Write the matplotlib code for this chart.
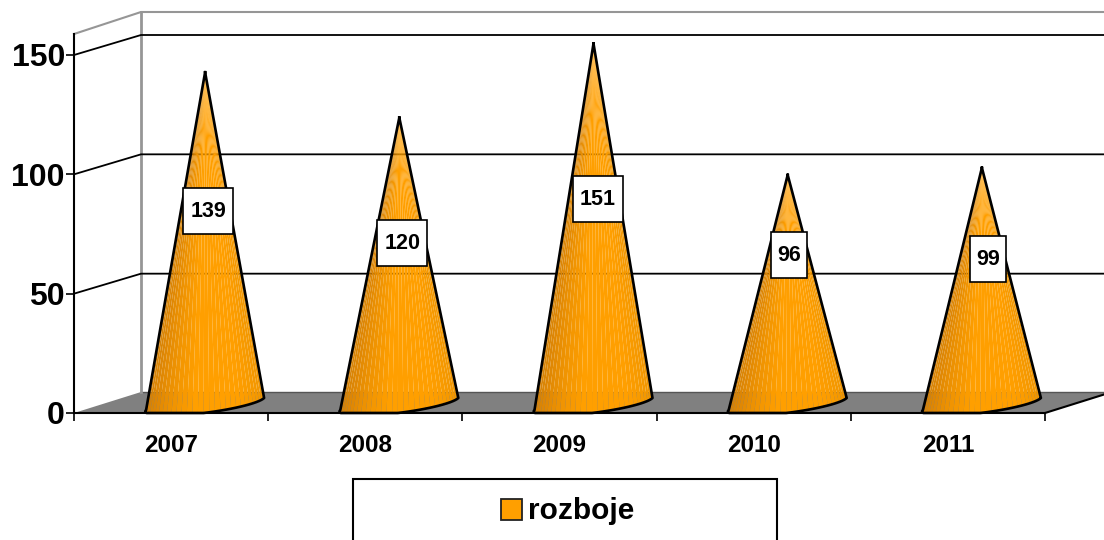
import numpy as np
import matplotlib
matplotlib.use("Agg")
import matplotlib.pyplot as plt
from matplotlib.patches import Polygon, Rectangle
from matplotlib.colors import LinearSegmentedColormap

years = ["2007", "2008", "2009", "2010", "2011"]
rozboje = [139, 120, 151, 96, 99]
y_ticks = [0, 50, 100, 150]
series_name = "rozboje"

# where the value boxes sit on each cone (in axis units)
label_heights = [84.6, 71.2, 89.6, 66.2, 64.5]
label_shift = [3, 3, 4, 1.5, 6]  # px to the right of cone centre

W, H = 1104, 540
X0, X1 = 74, 1045     # front floor edge, px
Y0, YTOP = 413, 34    # front left axis, px
PX_X = (X1 - X0) / 5
PX_Y = (413 - 55) / 150
DX, DY = 67 / PX_X, 21 / PX_Y  # depth of the 3d box in axis units
GRID_DY = 20 / PX_Y

plt.rcParams['font.family'] = ['Liberation Sans', 'DejaVu Sans']
plt.rcParams['font.weight'] = 'bold'

fig = plt.figure(figsize=(W / 100, H / 100), dpi=100)
ax = fig.add_axes([X0 / W, 1 - Y0 / H, (X1 - X0) / W, (Y0 - YTOP) / H])
ax.set_xlim(0, 5)
ax.set_ylim(0, (Y0 - YTOP) / PX_Y)
ax.patch.set_visible(False)
for s in ['top', 'right']:
    ax.spines[s].set_visible(False)
for s in ['left', 'bottom']:
    ax.spines[s].set_linewidth(1.5)
    ax.spines[s].set_zorder(6)

# ticks and labels
ax.set_yticks(y_ticks)
ax.set_yticklabels([str(v) for v in y_ticks], fontsize=23, fontweight='bold')
ax.tick_params(axis='y', length=5.5, width=1.2, pad=1)
ax.set_xticks(range(6))
ax.set_xticklabels([])
ax.tick_params(axis='x', which='major', length=6, width=1.2)
ax.set_xticks(np.arange(5) + 0.5, minor=True)
ax.set_xticklabels(years, minor=True, fontsize=17.5, fontweight='bold')
ax.tick_params(axis='x', which='minor', length=0, pad=15)

# floor
top_val = (Y0 - 12) / PX_Y
ax.add_patch(Polygon([(0, 0), (DX, DY), (5 + DX, DY), (5, 0)], closed=True,
                     facecolor='#808080', edgecolor='none', clip_on=False, zorder=1))
ax.plot([5, 5 + DX], [0, DY], color='black', lw=1.5, clip_on=False, zorder=2)
ax.plot([DX, 5 + DX], [DY, DY], color='#555555', lw=1, clip_on=False, zorder=1)

# walls
ax.plot([DX, DX], [DY, top_val], color='#969696', lw=2, clip_on=False, zorder=1)
ax.plot([0, DX, 5 + DX], [(Y0 - YTOP) / PX_Y, top_val, top_val], color='#969696',
        lw=1.5, clip_on=False, zorder=1)
for v in y_ticks[1:]:
    ax.plot([0, DX, 5 + DX], [v, v + GRID_DY, v + GRID_DY], color='black', lw=1.3,
            clip_on=False, zorder=1)

# cones
cone_cmap = LinearSegmentedColormap.from_list(
    "cone", ["#c97a0a", "#e08804", "#ff9f00", "#ff9f00", "#ee9400"])
t = np.linspace(0, np.pi, 34)
ux, uy = 59 / PX_X, 6 / PX_Y
vx, vy = 10 / PX_X, 10 / PX_Y
for i, val in enumerate(rozboje):
    cx = i + 0.5 + 34 / PX_X
    cy = 9 / PX_Y
    bx = cx + ux * np.cos(t) - vx * np.sin(t)
    by = np.maximum(cy + uy * np.cos(t) - vy * np.sin(t), 0)
    apex = (cx, cy + val)
    for k in range(len(t) - 1):
        ax.add_patch(Polygon([apex, (bx[k], by[k]), (bx[k + 1], by[k + 1])], closed=True,
                             facecolor=cone_cmap(1 - k / (len(t) - 2)), edgecolor='none',
                             clip_on=False, zorder=3))
    ax.plot(np.r_[apex[0], bx, apex[0]], np.r_[apex[1], by, apex[1]], color='black', lw=1.9,
            solid_joinstyle='round', clip_on=False, zorder=4)

    # value box
    txt = str(val)
    bw = (50 if len(txt) == 3 else 36) / PX_X
    bh = 46 / PX_Y
    lx = cx + label_shift[i] / PX_X
    ly = label_heights[i]
    ax.add_patch(Rectangle((lx - bw / 2, ly - bh / 2), bw, bh, facecolor='white',
                           edgecolor='black', lw=1.2, clip_on=False, zorder=5))
    ax.text(lx, ly, txt, ha='center', va='center', fontsize=15.5, fontweight='bold',
            color='black', zorder=6)

# legend
fig.add_artist(Rectangle((353 / W, -0.02), (777 - 353) / W, 1 - 479 / H + 0.02,
                         transform=fig.transFigure, facecolor='white',
                         edgecolor='black', lw=1.5))
fig.add_artist(Rectangle((501 / W, 1 - 520 / H), 21 / W, 21 / H, transform=fig.transFigure,
                         facecolor='#ff9f00', edgecolor='#222222', lw=1.3))
fig.text(528 / W, 1 - 511 / H, series_name, fontsize=21.5, fontweight='bold',
         ha='left', va='center')

fig.savefig("out.png", dpi=100)
